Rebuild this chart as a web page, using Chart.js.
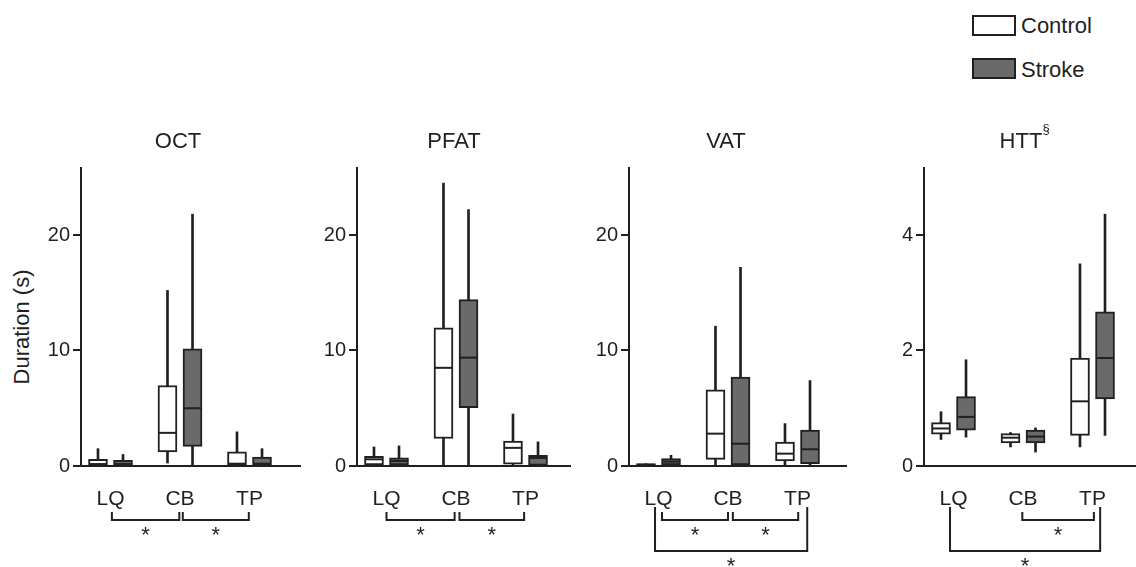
<!DOCTYPE html>
<html>
<head>
<meta charset="utf-8">
<script src="https://cdn.jsdelivr.net/npm/chart.js@4.4.1/dist/chart.umd.min.js"></script>
<style>
  body { margin: 0; width: 1136px; height: 567px; background: #fff; position: relative; overflow: hidden;
         font-family: "Liberation Sans", Arial, sans-serif; color: #231f20; }
  canvas { position: absolute; top: 120px; }
  .title { position: absolute; top: 128px; font-size: 22px; transform: translateX(-50%); white-space: nowrap; }
  .title sup { font-size: 13px; position: absolute; top: -7px; left: 100%; }
  .ytitle { position: absolute; left: 22px; top: 327px; font-size: 22px; white-space: nowrap;
            transform: translate(-50%, -50%) rotate(-90deg); }
  .legbox { position: absolute; left: 972px; width: 40px; height: 17px; border: 2px solid #231f20; }
  .legtext { position: absolute; left: 1021px; font-size: 22px; }
</style>
</head>
<body>
<div class="legbox" style="top:15px; background:#fff;"></div>
<div class="legtext" style="top:13px;">Control</div>
<div class="legbox" style="top:58px; background:#6a6a6a;"></div>
<div class="legtext" style="top:57px;">Stroke</div>
<div class="ytitle">Duration (s)</div>

<script>
// box values: [min, q1, median, q3, max] for LQ, CB, TP
const categories = ["LQ", "CB", "TP"];
const groups = ["Control", "Stroke"];

const octControl = [[0, 0, 0.15, 0.58, 1.5], [0.26, 1.22, 2.87, 6.97, 15.2], [0, 0, 0.2, 1.22, 2.96]];
const octStroke = [[0, 0, 0.15, 0.5, 1.0], [0, 1.7, 5.0, 10.15, 21.8], [0, 0, 0.2, 0.78, 1.5]];

const pfatControl = [[0, 0, 0.58, 0.84, 1.65], [0, 2.38, 8.5, 11.96, 24.5], [0, 0.15, 1.57, 2.15, 4.5]];
const pfatStroke = [[0, 0, 0.43, 0.7, 1.74], [0, 5.05, 9.38, 14.4, 22.2], [0, 0.05, 0.7, 0.93, 2.09]];

const vatControl = [[0, 0, 0.1, 0.2, 0.2], [0, 0.58, 2.8, 6.6, 12.1], [0, 0.43, 1.07, 2.08, 3.67]];
const vatStroke = [[0, 0, 0.38, 0.64, 0.93], [0, 0, 1.93, 7.7, 17.2], [0, 0.2, 1.45, 3.1, 7.4]];

const httControl = [[0.46, 0.55, 0.65, 0.75, 0.94], [0.33, 0.4, 0.49, 0.56, 0.58], [0.33, 0.53, 1.12, 1.87, 3.5]];
const httStroke = [[0.5, 0.62, 0.85, 1.2, 1.84], [0.24, 0.4, 0.51, 0.62, 0.66], [0.53, 1.16, 1.87, 2.67, 4.36]];

// significance brackets: [from category, to category, level]
const octBrackets = [[0.02, 0.99, 0], [1.04, 1.99, 0]];
const pfatBrackets = [[0, 0.98, 0], [1.05, 1.98, 0]];
const vatBrackets = [[0.05, 1.0, 0], [1.07, 2.01, 0], [-0.05, 2.14, 1]];
const httBrackets = [[0.99, 2.02, 0], [-0.05, 2.11, 1]];

const yMaxes = [25.8, 25.8, 25.8, 5.16];
const yTickSteps = [10, 10, 10, 2];

const panels = [
  { name: "OCT", control: octControl, stroke: octStroke, brackets: octBrackets },
  { name: "PFAT", control: pfatControl, stroke: pfatStroke, brackets: pfatBrackets },
  { name: "VAT", control: vatControl, stroke: vatStroke, brackets: vatBrackets },
  { name: "HTT", control: httControl, stroke: httStroke, brackets: httBrackets, sup: "§" }
];

// layout (pixels)
const axisLeft = [81, 357, 629, 924];
const axisRight = [301, 571, 847, 1136];
const catPx = 69.5, firstCatPx = 29.5, yAxisW = 60;
const dark = "#231f20", strokeFill = "#6a6a6a";
const font = "'Liberation Sans', Arial, sans-serif";
const offsets = [-0.18, 0.18];

const extras = {
  id: "extras",
  afterDatasetsDraw(chart) {
    const { ctx, scales: { y } } = chart;
    const p = chart.options.plugins.extras;
    ctx.save();
    ctx.strokeStyle = dark;
    ctx.lineWidth = 2;
    [p.control, p.stroke].forEach((series, gi) => {
      const meta = chart.getDatasetMeta(2 + gi);
      series.forEach((b, i) => {
        const bar = meta.data[i];
        const yy = y.getPixelForValue(b[2]);
        ctx.beginPath();
        ctx.moveTo(bar.x - bar.width / 2 + 1, yy);
        ctx.lineTo(bar.x + bar.width / 2 - 1, yy);
        ctx.stroke();
      });
    });
    ctx.restore();
  },
  afterDraw(chart) {
    const { ctx, chartArea, scales: { x } } = chart;
    const p = chart.options.plugins.extras;
    const base = chartArea.bottom;
    ctx.save();
    ctx.strokeStyle = dark;
    ctx.fillStyle = dark;
    ctx.lineWidth = 2;
    ctx.font = "22px " + font;
    ctx.textAlign = "center";
    ctx.textBaseline = "alphabetic";
    p.brackets.forEach(([a, b, lvl]) => {
      const xa = x.getPixelForValue(a), xb = x.getPixelForValue(b);
      const top = base + (lvl ? 41 : 46), bot = base + (lvl ? 85 : 54);
      ctx.beginPath();
      ctx.moveTo(xa, top);
      ctx.lineTo(xa, bot);
      ctx.lineTo(xb, bot);
      ctx.lineTo(xb, top);
      ctx.stroke();
      ctx.fillText("*", (xa + xb) / 2, bot + (lvl ? 9 : 9) + 13);
    });
    ctx.restore();
  }
};

panels.forEach((p, k) => {
  const left = axisLeft[k] - yAxisW;
  const width = axisRight[k] - left;
  const xMin = -firstCatPx / catPx;
  const xMax = xMin + (axisRight[k] - axisLeft[k]) / catPx;

  const canvas = document.createElement("canvas");
  canvas.width = width;
  canvas.height = 447;
  canvas.style.left = left + "px";
  document.body.appendChild(canvas);

  const title = document.createElement("div");
  title.className = "title";
  title.style.left = (axisLeft[k] + firstCatPx + catPx - 2) + "px";
  title.innerHTML = p.name + (p.sup ? "<sup>" + p.sup + "</sup>" : "");
  document.body.appendChild(title);

  const whisker = (series, gi) => ({
    label: groups[gi] + " range",
    data: series.map((b, i) => ({ x: i + offsets[gi], y: [b[0], b[4]] })),
    backgroundColor: dark,
    borderWidth: 0,
    barThickness: 2,
    grouped: false,
    order: 2
  });
  const box = (series, gi) => ({
    label: groups[gi],
    data: series.map((b, i) => ({ x: i + offsets[gi], y: [b[1], b[3]] })),
    backgroundColor: gi ? strokeFill : "#fff",
    borderColor: dark,
    borderWidth: 2,
    borderSkipped: false,
    barThickness: 19,
    grouped: false,
    order: 1
  });

  new Chart(canvas, {
    type: "bar",
    data: {
      datasets: [whisker(p.control, 0), whisker(p.stroke, 1), box(p.control, 0), box(p.stroke, 1)]
    },
    options: {
      responsive: false,
      animation: false,
      layout: { padding: { top: 48, left: 0, right: 0, bottom: 0 } },
      plugins: {
        legend: { display: false },
        tooltip: { enabled: false },
        extras: { control: p.control, stroke: p.stroke, brackets: p.brackets }
      },
      scales: {
        x: {
          type: "linear",
          offset: false,
          min: xMin,
          max: xMax,
          grid: { display: false },
          border: { display: true, color: dark, width: 2 },
          afterBuildTicks: s => { s.ticks = categories.map((c, i) => ({ value: i })); },
          afterFit: s => { s.height = 101; },
          ticks: {
            callback: v => categories[v],
            autoSkip: false,
            maxRotation: 0,
            padding: 13,
            color: dark,
            font: { size: 21, family: font }
          }
        },
        y: {
          min: 0,
          max: yMaxes[k],
          grid: { drawOnChartArea: false, drawTicks: true, tickLength: 8, color: dark, lineWidth: 2 },
          border: { display: true, color: dark, width: 2 },
          afterFit: s => { s.width = yAxisW; },
          ticks: {
            stepSize: yTickSteps[k],
            includeBounds: false,
            padding: 3,
            color: dark,
            font: { size: 20, family: font }
          }
        }
      }
    },
    plugins: [extras]
  });
});
</script>
</body>
</html>
